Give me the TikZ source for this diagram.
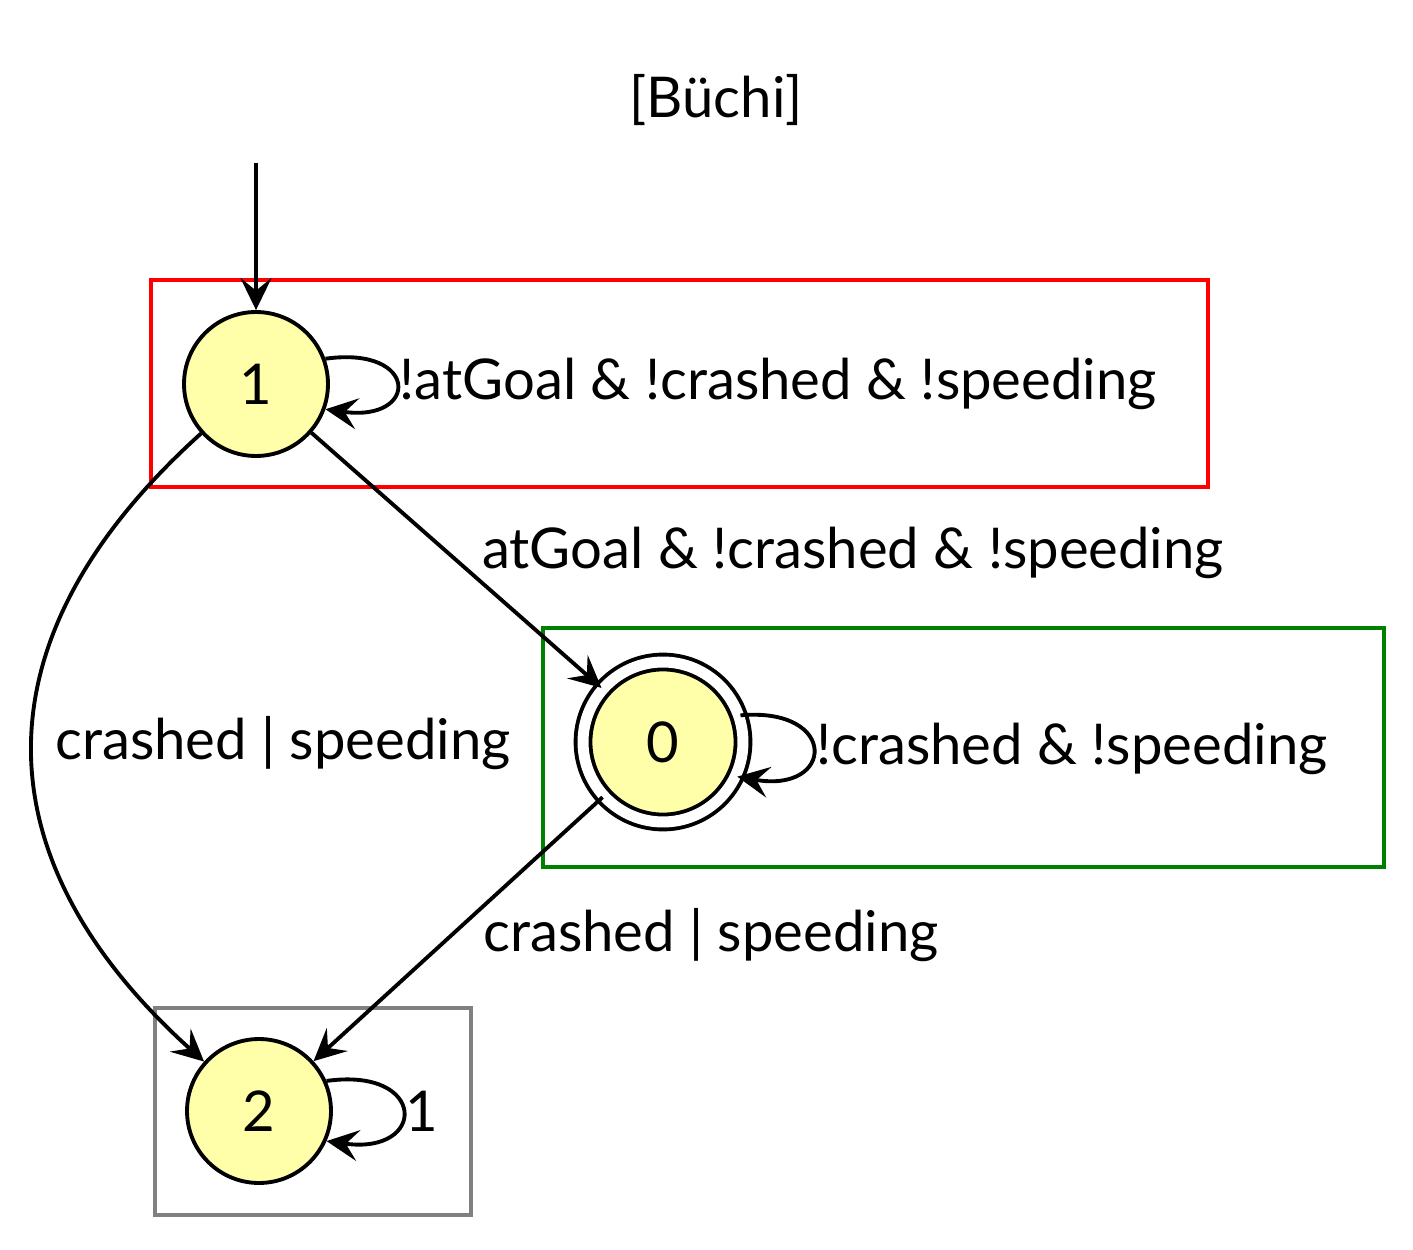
\documentclass[tikz,border=0pt]{standalone}
\usepackage{fontspec}
\setmainfont{Lato}
\usetikzlibrary{arrows.meta}
\definecolor{statefill}{HTML}{FFFFAA}
\definecolor{accgreen}{HTML}{008000}
\begin{document}
\begin{tikzpicture}[x=0.02cm, y=0.02cm, line width=2.2pt,
    font=\fontsize{32pt}{38pt}\selectfont,
    st/.style={draw, circle, fill=statefill, minimum size=2.88cm, inner sep=0pt},
    acc/.style={st, minimum size=3.2cm, double, double distance=0.22cm},
    arr/.style={-{Stealth[length=0.64cm, width=0.62cm, inset=0.25cm]}},
    lbl/.style={inner sep=1pt}]
  \useasboundingbox (0,0) rectangle (1413,-1250);

  \node (title) at (716,-100) {[Büchi]};

  % groups
  \draw[red] (151,-280) rectangle (1208,-487);
  \draw[accgreen] (543,-628) rectangle (1384,-867);
  \draw[gray] (155,-1008) rectangle (471,-1215);

  \node[st] (S1) at (256,-384) {1};
  \node[acc] (S0) at (663,-742) {0};
  \node[st] (S2) at (259,-1111) {2};
  \coordinate (init) at (256,-163);

  \draw[arr] (init) -- (S1);
  \draw[arr] (S1.20) .. controls +(8:1.9cm) and +(-8:1.9cm) .. (S1.-20)
    node[lbl, pos=0.5, anchor=west] (L11) {!atGoal \& !crashed \& !speeding};
  \draw[arr] (S1) -- (S0);
  \draw[arr] (S1.222) .. controls +(222:6.1cm) and +(138:6.1cm) .. (S2.138);
  \draw[arr] (S0.19) .. controls +(5:1.98cm) and +(-10:1.98cm) .. (S0.-25)
    node[lbl, pos=0.5, anchor=west] (L00) {!crashed \& !speeding};
  \draw[arr] (S0) -- (S2);
  \draw[arr] (S2.24) .. controls +(8:2.04cm) and +(-8:2.04cm) .. (S2.-24)
    node[lbl, pos=0.5, anchor=west] (L22) {1};

  \node[lbl] (L10) at (853,-553) {atGoal \& !crashed \& !speeding};
  \node[lbl] (L12) at (283,-743) {crashed | speeding};
  \node[lbl] (L02) at (711,-935) {crashed | speeding};
\end{tikzpicture}
\end{document}
